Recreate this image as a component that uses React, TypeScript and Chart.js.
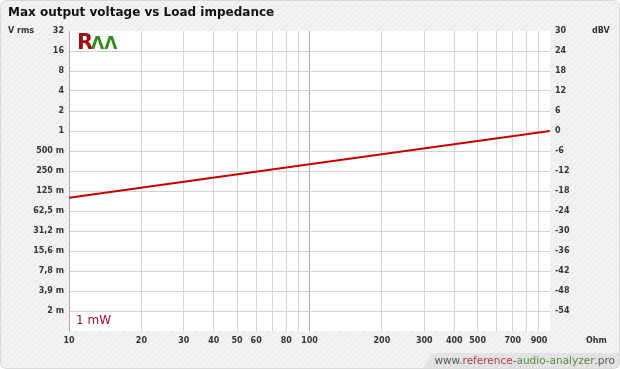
import React, { useEffect, useRef } from "react";
import { Chart, registerables } from "chart.js";

Chart.register(...registerables);

// ---- Data ----
const loadOhm = [10, 100, 1000];
const maxVoltageDbv = [-20, -10, 0];
const seriesLabel = "1 mW";

const dbvTickValues = [30, 24, 18, 12, 6, 0, -6, -12, -18, -24, -30, -36, -42, -48, -54];
const vrmsTickLabels = ["32", "16", "8", "4", "2", "1", "500 m", "250 m", "125 m", "62,5 m", "31,2 m", "15,6 m", "7,8 m", "3,9 m", "2 m"];
const dbvTickLabels = ["30", "24", "18", "12", "6", "0", "-6", "-12", "-18", "-24", "-30", "-36", "-42", "-48", "-54"];
const ohmGridValues = [10, 20, 30, 40, 50, 60, 70, 80, 90, 100, 200, 300, 400, 500, 600, 700, 800, 900, 1000];
const ohmTickLabels = [10, 20, 30, 40, 50, 60, 80, 100, 200, 300, 400, 500, 700, 900];

const TITLE = "Max output voltage vs Load impedance";
const TICK_FONT = { family: "DejaVu Sans", weight: "bold" as const, size: 8 };

function makePattern(ctx: CanvasRenderingContext2D) {
  const c = document.createElement("canvas");
  c.width = 6;
  c.height = 6;
  const p = c.getContext("2d")!;
  p.fillStyle = "#f3f3f3";
  p.fillRect(0, 0, 6, 6);
  p.strokeStyle = "#e9e9e9";
  p.lineWidth = 1.2;
  p.beginPath();
  p.moveTo(0, 6);
  p.lineTo(6, 0);
  p.moveTo(-3, 3);
  p.lineTo(3, -3);
  p.moveTo(3, 9);
  p.lineTo(9, 3);
  p.stroke();
  return ctx.createPattern(c, "repeat")!;
}

const decorPlugin = {
  id: "decor",
  beforeDraw(chart: any) {
    const { ctx, width, height, chartArea } = chart;
    ctx.save();
    ctx.fillStyle = "#ffffff";
    ctx.fillRect(0, 0, width, height);
    ctx.beginPath();
    (ctx as any).roundRect(0.5, 0.5, width - 1, height - 1, 6);
    ctx.fillStyle = makePattern(ctx);
    ctx.fill();
    ctx.strokeStyle = "#d9d9d9";
    ctx.lineWidth = 1;
    ctx.stroke();
    // watermark band
    ctx.beginPath();
    ctx.moveTo(433, 353);
    ctx.lineTo(width - 1, 353);
    ctx.lineTo(width - 1, height - 1);
    ctx.lineTo(423, height - 1);
    ctx.closePath();
    ctx.fillStyle = "rgba(0,0,0,0.055)";
    ctx.fill();
    // plot area
    ctx.fillStyle = "#ffffff";
    ctx.fillRect(chartArea.left, chartArea.top, chartArea.right - chartArea.left, chartArea.bottom - chartArea.top);
    ctx.restore();
  },
  afterDraw(chart: any) {
    const { ctx, chartArea } = chart;
    ctx.save();
    // title
    ctx.fillStyle = "#111111";
    ctx.font = "bold 12px 'DejaVu Sans'";
    ctx.textBaseline = "middle";
    ctx.textAlign = "left";
    ctx.fillText(TITLE, 8, 13);
    // axis unit labels
    ctx.fillStyle = "#333333";
    ctx.font = "bold 8px 'DejaVu Sans'";
    ctx.fillText("V rms", 8, chartArea.top);
    ctx.fillText("dBV", 592, chartArea.top);
    ctx.fillText("Ohm", 586, chartArea.bottom + 10);
    // logo
    ctx.font = "bold 21px 'DejaVu Sans'";
    ctx.fillStyle = "#9a1212";
    ctx.textBaseline = "alphabetic";
    ctx.fillText("R", chartArea.left + 8, chartArea.top + 18);
    ctx.font = "bold 17px 'DejaVu Sans'";
    ctx.fillStyle = "#2f8a1e";
    ctx.fillText("ΛΛ", chartArea.left + 22, chartArea.top + 18);
    // series label
    ctx.font = "12px 'DejaVu Sans'";
    ctx.fillStyle = "#a3102e";
    ctx.textBaseline = "middle";
    ctx.fillText(seriesLabel, chartArea.left + 7, chartArea.bottom - 10);
    // watermark text
    ctx.font = "10.5px 'DejaVu Sans'";
    const parts: [string, string][] = [
      ["www.", "#555555"],
      ["reference", "#b53a3a"],
      ["-", "#555555"],
      ["audio-analyzer", "#4f8f3c"],
      [".pro", "#555555"],
    ];
    let total = 0;
    parts.forEach(([t]) => (total += ctx.measureText(t).width));
    let x = 615 - total;
    parts.forEach(([t, c]) => {
      ctx.fillStyle = c;
      ctx.fillText(t, x, 361);
      x += ctx.measureText(t).width;
    });
    ctx.restore();
  },
};

export default function App() {
  const ref = useRef<HTMLCanvasElement | null>(null);

  useEffect(() => {
    document.body.style.margin = "0";
    const canvas = ref.current!;
    const chart = new Chart(canvas, {
      type: "line",
      data: {
        datasets: [
          {
            label: seriesLabel,
            data: loadOhm.map((x, i) => ({ x, y: maxVoltageDbv[i] })),
            borderColor: "#c40000",
            borderWidth: 2,
            pointRadius: 0,
            tension: 0,
            xAxisID: "x",
            yAxisID: "y",
          },
        ],
      },
      options: {
        responsive: false,
        animation: false,
        devicePixelRatio: 1,
        layout: { padding: { top: 31, left: 0, right: 0, bottom: 0 } },
        plugins: { legend: { display: false }, tooltip: { enabled: false }, title: { display: false } },
        scales: {
          x: {
            type: "logarithmic",
            min: 10,
            max: 1000,
            afterBuildTicks: (scale: any) => {
              scale.ticks = ohmGridValues.map((v) => ({ value: v }));
            },
            afterFit: (scale: any) => {
              scale.height = 38;
            },
            ticks: {
              autoSkip: false,
              maxRotation: 0,
              minRotation: 0,
              padding: 5,
              color: "#333333",
              font: TICK_FONT,
              callback: (v: any) => (ohmTickLabels.includes(Number(v)) ? String(v) : ""),
            },
            grid: {
              drawTicks: false,
              color: (c: any) => {
                const v = c.tick && c.tick.value;
                if (v === 100) return "#ababab";
                if (v === 10 || v === 1000) return "rgba(0,0,0,0)";
                return "#d6d6d6";
              },
            },
            border: { display: false },
          },
          y: {
            type: "linear",
            position: "left",
            min: -60,
            max: 30,
            afterBuildTicks: (scale: any) => {
              scale.ticks = [...dbvTickValues, -60].map((v) => ({ value: v }));
            },
            afterFit: (scale: any) => {
              scale.width = 69;
            },
            ticks: {
              padding: 5,
              color: "#333333",
              font: TICK_FONT,
              callback: (v: any) => {
                const i = dbvTickValues.indexOf(Number(v));
                return i >= 0 ? vrmsTickLabels[i] : "";
              },
            },
            grid: {
              drawTicks: false,
              color: (c: any) => {
                const v = c.tick && c.tick.value;
                if (v === 30 || v === -60) return "rgba(0,0,0,0)";
                return "#d2d2d2";
              },
            },
            border: { display: true, color: "#acacac", width: 1 },
          },
          y2: {
            type: "linear",
            position: "right",
            min: -60,
            max: 30,
            afterBuildTicks: (scale: any) => {
              scale.ticks = [...dbvTickValues, -60].map((v) => ({ value: v }));
            },
            afterFit: (scale: any) => {
              scale.width = 70;
            },
            ticks: {
              padding: 5,
              color: "#333333",
              font: TICK_FONT,
              callback: (v: any) => {
                const i = dbvTickValues.indexOf(Number(v));
                return i >= 0 ? dbvTickLabels[i] : "";
              },
            },
            grid: { display: false, drawTicks: false },
            border: { display: false },
          },
        },
      } as any,
      plugins: [decorPlugin],
    });
    return () => chart.destroy();
  }, []);

  return <canvas ref={ref} width={620} height={369} style={{ display: "block", width: 620, height: 369 }} />;
}
